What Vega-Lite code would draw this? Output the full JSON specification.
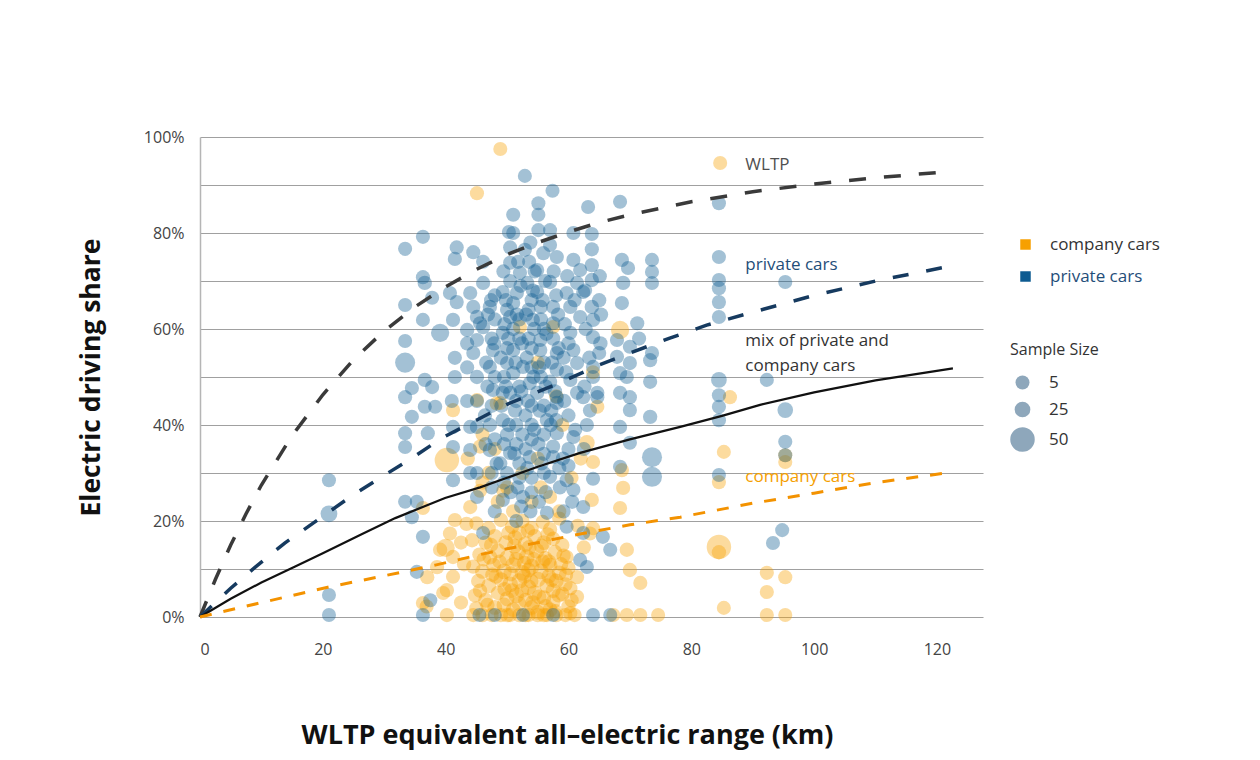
{
  "$schema": "https://vega.github.io/schema/vega-lite/v6.json",
  "width": 783,
  "height": 480,
  "autosize": {"type": "none"},
  "padding": {"left": 200, "top": 137, "right": 277, "bottom": 143},
  "background": "white",
  "config": {
    "font": "Open Sans",
    "view": {"stroke": null}
  },
  "encoding": {
    "x": {
      "field": "r",
      "type": "quantitative",
      "scale": {"domain": [0, 127.5], "nice": false},
      "axis": {
        "values": [0, 20, 40, 60, 80, 100, 120],
        "domain": false,
        "ticks": false,
        "grid": false,
        "labelFontSize": 16,
        "labelColor": "#444444",
        "labelPadding": 24,
        "title": "WLTP equivalent all–electric range (km)",
        "titleFontSize": 27,
        "titleFontWeight": "bold",
        "titleColor": "#111111",
        "titleX": 367,
        "titleY": 105,
        "titleAlign": "center",
        "titleBaseline": "top"
      }
    },
    "y": {
      "field": "s",
      "type": "quantitative",
      "scale": {"domain": [0, 100], "nice": false},
      "axis": {
        "values": [0, 10, 20, 30, 40, 50, 60, 70, 80, 90, 100],
        "labelExpr": "datum.value % 20 == 0 ? datum.value + '%' : ''",
        "ticks": false,
        "domain": true,
        "domainColor": "#b5b5b5",
        "domainWidth": 1.5,
        "grid": true,
        "gridColor": "#a0a0a0",
        "gridWidth": 1.2,
        "labelFontSize": 16,
        "labelColor": "#444444",
        "labelPadding": 16,
        "title": "Electric driving share",
        "titleFontSize": 26.5,
        "titleFontWeight": "bold",
        "titleColor": "#111111",
        "titlePadding": 38
      }
    }
  },
  "layer": [
    {
      "data": {
        "values": [
          {"g":"C","r":48.9,"s":97.5,"n":10},{"g":"C","r":45.1,"s":88.3,"n":12},{"g":"C","r":84.7,"s":94.6,"n":10},{"g":"C","r":68.4,"s":59.8,"n":35},
          {"g":"C","r":52.1,"s":60.4,"n":10},{"g":"C","r":57.5,"s":60.4,"n":10},{"g":"C","r":45.1,"s":45.2,"n":10},{"g":"C","r":48.9,"s":44.6,"n":10},
          {"g":"C","r":64.7,"s":43.8,"n":12},{"g":"C","r":86.3,"s":45.8,"n":10},{"g":"C","r":85.3,"s":34.4,"n":10},{"g":"C","r":84.5,"s":28.1,"n":12},
          {"g":"C","r":84.5,"s":14.6,"n":50},{"g":"C","r":84.5,"s":13.5,"n":15},{"g":"C","r":85.3,"s":1.9,"n":10},{"g":"C","r":92.3,"s":9.2,"n":12},
          {"g":"C","r":95.3,"s":8.3,"n":12},{"g":"C","r":92.3,"s":5.2,"n":12},{"g":"C","r":92.3,"s":0.4,"n":10},{"g":"C","r":95.3,"s":0.4,"n":10},
          {"g":"C","r":95.3,"s":33.7,"n":10},{"g":"C","r":95.3,"s":32.3,"n":10},
          {"g":"C","r":63,"s":36.3,"n":25},{"g":"C","r":64,"s":32.3,"n":12},{"g":"C","r":68.7,"s":30.6,"n":12},{"g":"C","r":68.9,"s":26.9,"n":12},
          {"g":"C","r":63.8,"s":24.4,"n":12},{"g":"C","r":68.4,"s":22.7,"n":12},{"g":"C","r":64,"s":18.5,"n":12},{"g":"C","r":63.5,"s":17.4,"n":10},
          {"g":"C","r":69.5,"s":14,"n":15},{"g":"C","r":70,"s":9.8,"n":15},{"g":"C","r":71.7,"s":7.1,"n":12},{"g":"C","r":69.5,"s":0.4,"n":10},
          {"g":"C","r":71.7,"s":0.4,"n":10},{"g":"C","r":74.6,"s":0.4,"n":10},{"g":"C","r":67.3,"s":0.4,"n":10},{"g":"C","r":59.7,"s":12.5,"n":12},
          {"g":"C","r":61.4,"s":8.3,"n":12},{"g":"C","r":61.4,"s":4.2,"n":12},{"g":"C","r":60.3,"s":0.8,"n":12},{"g":"C","r":62.5,"s":14.5,"n":12},
          {"g":"C","r":61.5,"s":19,"n":10},
          {"g":"C","r":40.2,"s":32.7,"n":50},{"g":"C","r":43.6,"s":33,"n":15},{"g":"C","r":45.6,"s":35.5,"n":12},{"g":"C","r":36.3,"s":22.7,"n":10},
          {"g":"C","r":40,"s":14.4,"n":35},{"g":"C","r":41.2,"s":12.5,"n":15},{"g":"C","r":38.6,"s":10.4,"n":15},{"g":"C","r":37,"s":8.3,"n":15},
          {"g":"C","r":40.2,"s":5.6,"n":15},{"g":"C","r":36.3,"s":2.9,"n":12},{"g":"C","r":40.2,"s":0.4,"n":12},{"g":"C","r":41.2,"s":43.1,"n":12},
          {"g":"C","r":41.5,"s":20.2,"n":12},{"g":"C","r":43.4,"s":19.4,"n":12},{"g":"C","r":44,"s":22.9,"n":12},{"g":"C","r":40.7,"s":17.4,"n":12},
          {"g":"C","r":39.1,"s":14,"n":15},{"g":"C","r":41.2,"s":8.4,"n":12},{"g":"C","r":39.6,"s":5,"n":12},{"g":"C","r":36.9,"s":2.2,"n":10},
          {"g":"C","r":42.5,"s":3,"n":12},{"g":"C","r":43,"s":11,"n":15},{"g":"C","r":42.5,"s":15.5,"n":12},{"g":"C","r":48.3,"s":44.5,"n":10},
          {"g":"C","r":45.6,"s":26.3,"n":12},{"g":"C","r":49.4,"s":26.3,"n":12},{"g":"C","r":46,"s":28,"n":12},{"g":"C","r":47,"s":30,"n":15},
          {"g":"C","r":48.5,"s":24,"n":15},{"g":"C","r":50,"s":27,"n":12},{"g":"C","r":51,"s":22,"n":15},{"g":"C","r":52.5,"s":30,"n":12},
          {"g":"C","r":54,"s":24,"n":12},{"g":"C","r":55.5,"s":27,"n":12},{"g":"C","r":57,"s":25,"n":12},{"g":"C","r":58.5,"s":22,"n":12},
          {"g":"C","r":46,"s":38,"n":10},{"g":"C","r":48,"s":35,"n":12},{"g":"C","r":55,"s":33,"n":10},{"g":"C","r":59,"s":40,"n":10},
          {"g":"C","r":58,"s":46,"n":10},{"g":"C","r":64,"s":51,"n":10},{"g":"C","r":55,"s":53,"n":10},{"g":"C","r":60.5,"s":29,"n":12},
          {"g":"C","r":62,"s":33,"n":10},
          {"g":"C","r":44.5,"s":0.4,"n":12},{"g":"C","r":46,"s":0.4,"n":15},{"g":"C","r":47.5,"s":0.4,"n":12},{"g":"C","r":49,"s":0.4,"n":15},
          {"g":"C","r":50.5,"s":0.4,"n":12},{"g":"C","r":52,"s":0.4,"n":15},{"g":"C","r":53.5,"s":0.4,"n":12},{"g":"C","r":55,"s":0.4,"n":15},
          {"g":"C","r":56.5,"s":0.4,"n":12},{"g":"C","r":58,"s":0.4,"n":15},{"g":"C","r":59.5,"s":0.4,"n":12},{"g":"C","r":61,"s":0.4,"n":12},
          {"g":"C","r":45,"s":1.8,"n":15},{"g":"C","r":48,"s":2,"n":20},{"g":"C","r":51,"s":1.5,"n":20},{"g":"C","r":54,"s":2,"n":20},
          {"g":"C","r":57,"s":1.5,"n":20},{"g":"C","r":60,"s":2.2,"n":15},
          {"g":"C","r":44.8,"s":4.5,"n":15},{"g":"C","r":46.5,"s":3.5,"n":20},{"g":"C","r":48.5,"s":5,"n":15},{"g":"C","r":50,"s":3.8,"n":20},
          {"g":"C","r":51.5,"s":4.5,"n":25},{"g":"C","r":53,"s":3.5,"n":20},{"g":"C","r":54.5,"s":5,"n":25},{"g":"C","r":56,"s":4,"n":20},
          {"g":"C","r":57.5,"s":3.2,"n":20},{"g":"C","r":59,"s":4.8,"n":15},{"g":"C","r":60.5,"s":3.5,"n":15},
          {"g":"C","r":45.3,"s":7.5,"n":15},{"g":"C","r":47,"s":6.5,"n":20},{"g":"C","r":49,"s":7.8,"n":20},{"g":"C","r":50.5,"s":6.8,"n":25},
          {"g":"C","r":52,"s":7.5,"n":25},{"g":"C","r":53.5,"s":6.2,"n":25},{"g":"C","r":55,"s":7.8,"n":25},{"g":"C","r":56.5,"s":6.5,"n":20},
          {"g":"C","r":58,"s":7.5,"n":20},{"g":"C","r":59.5,"s":6.8,"n":15},
          {"g":"C","r":44.5,"s":10.5,"n":15},{"g":"C","r":46,"s":9.5,"n":20},{"g":"C","r":47.8,"s":10.8,"n":20},{"g":"C","r":49.5,"s":9.5,"n":25},
          {"g":"C","r":51,"s":10.8,"n":25},{"g":"C","r":52.5,"s":9.2,"n":25},{"g":"C","r":54,"s":10.5,"n":25},{"g":"C","r":55.5,"s":9.5,"n":25},
          {"g":"C","r":57,"s":10.8,"n":20},{"g":"C","r":58.5,"s":9.2,"n":20},{"g":"C","r":60,"s":10.2,"n":15},
          {"g":"C","r":45.5,"s":13,"n":15},{"g":"C","r":47.2,"s":12.5,"n":20},{"g":"C","r":48.5,"s":13.8,"n":20},{"g":"C","r":50,"s":12.3,"n":25},
          {"g":"C","r":51.8,"s":13.5,"n":25},{"g":"C","r":53.2,"s":12.5,"n":25},{"g":"C","r":54.8,"s":13.8,"n":25},{"g":"C","r":56.2,"s":12.2,"n":20},
          {"g":"C","r":57.8,"s":13.5,"n":20},{"g":"C","r":59.2,"s":12.8,"n":15},
          {"g":"C","r":44.3,"s":16,"n":15},{"g":"C","r":46.5,"s":15.5,"n":15},{"g":"C","r":48,"s":16.8,"n":20},{"g":"C","r":49.8,"s":15.5,"n":20},
          {"g":"C","r":51.3,"s":16.5,"n":20},{"g":"C","r":53,"s":15.2,"n":25},{"g":"C","r":54.5,"s":16.8,"n":20},{"g":"C","r":56,"s":15.5,"n":20},
          {"g":"C","r":57.5,"s":16.3,"n":15},{"g":"C","r":59,"s":15,"n":15},
          {"g":"C","r":45,"s":19.5,"n":12},{"g":"C","r":47,"s":18.5,"n":15},{"g":"C","r":49,"s":20.2,"n":15},{"g":"C","r":50.8,"s":18.8,"n":15},
          {"g":"C","r":52.5,"s":20,"n":15},{"g":"C","r":54,"s":18.5,"n":15},{"g":"C","r":55.8,"s":19.8,"n":15},{"g":"C","r":57,"s":18.3,"n":15},
          {"g":"C","r":58.5,"s":20.5,"n":12},
          {"g":"C","r":50.8,"s":5.5,"n":20},{"g":"C","r":52.8,"s":8.5,"n":20},{"g":"C","r":54.2,"s":3,"n":20},{"g":"C","r":55.8,"s":11.5,"n":20},
          {"g":"C","r":53.6,"s":14.5,"n":20},{"g":"C","r":51.5,"s":12,"n":20},{"g":"C","r":56.8,"s":8.5,"n":20},{"g":"C","r":49.5,"s":2.5,"n":20},
          {"g":"C","r":52,"s":17.5,"n":20},{"g":"C","r":55,"s":1,"n":20},{"g":"C","r":57.5,"s":5.5,"n":20},{"g":"C","r":48.2,"s":8.5,"n":20},
          {"g":"C","r":53,"s":0.4,"n":15},{"g":"C","r":56,"s":0.4,"n":15},{"g":"C","r":50,"s":0.4,"n":15},
          {"g":"C","r":46.8,"s":2.5,"n":15},{"g":"C","r":47.6,"s":8.8,"n":15},{"g":"C","r":48.8,"s":11.5,"n":15},{"g":"C","r":49.6,"s":5.8,"n":15},
          {"g":"C","r":50.6,"s":9,"n":20},{"g":"C","r":51.2,"s":14.8,"n":20},{"g":"C","r":51.9,"s":2.8,"n":20},{"g":"C","r":52.4,"s":5.5,"n":20},
          {"g":"C","r":52.8,"s":11.2,"n":20},{"g":"C","r":53.5,"s":9.8,"n":20},{"g":"C","r":53.9,"s":7.5,"n":20},{"g":"C","r":54.4,"s":12,"n":20},
          {"g":"C","r":55.2,"s":4.2,"n":20},{"g":"C","r":55.6,"s":14.8,"n":20},{"g":"C","r":56.3,"s":2.2,"n":20},{"g":"C","r":56.8,"s":11.5,"n":20},
          {"g":"C","r":57.3,"s":7.8,"n":20},{"g":"C","r":57.9,"s":1.2,"n":15},{"g":"C","r":58.4,"s":4.5,"n":15},{"g":"C","r":58.8,"s":11,"n":15},
          {"g":"C","r":59.6,"s":8.8,"n":15},{"g":"C","r":60.3,"s":6,"n":15},{"g":"C","r":46.2,"s":12,"n":15},{"g":"C","r":45.6,"s":5.5,"n":15},
          {"g":"C","r":47.4,"s":15,"n":15},{"g":"C","r":50.2,"s":17.5,"n":15},{"g":"C","r":53.4,"s":18,"n":15},{"g":"C","r":56.6,"s":17.2,"n":15},

          {"g":"P","r":21,"s":28.5,"n":8},{"g":"P","r":21,"s":21.5,"n":30},{"g":"P","r":21,"s":4.6,"n":8},{"g":"P","r":21,"s":0.4,"n":8},
          {"g":"P","r":33.4,"s":76.7,"n":10},{"g":"P","r":33.4,"s":65,"n":12},{"g":"P","r":33.4,"s":57.5,"n":10},{"g":"P","r":33.4,"s":53,"n":40},
          {"g":"P","r":33.4,"s":45.8,"n":10},{"g":"P","r":33.4,"s":38.3,"n":10},{"g":"P","r":33.4,"s":35.4,"n":10},{"g":"P","r":33.4,"s":24,"n":10},
          {"g":"P","r":35.3,"s":24,"n":10},{"g":"P","r":35.3,"s":9.4,"n":10},{"g":"P","r":34.5,"s":41.7,"n":10},{"g":"P","r":34.5,"s":47.7,"n":12},
          {"g":"P","r":34.5,"s":20.8,"n":10},
          {"g":"P","r":36.3,"s":79.2,"n":10},{"g":"P","r":36.6,"s":69.6,"n":15},{"g":"P","r":36.3,"s":70.8,"n":10},{"g":"P","r":36.3,"s":61.9,"n":10},
          {"g":"P","r":36.6,"s":49.4,"n":12},{"g":"P","r":36.6,"s":43.8,"n":10},{"g":"P","r":37.1,"s":38.3,"n":10},{"g":"P","r":36.3,"s":16.7,"n":10},
          {"g":"P","r":36.3,"s":0.4,"n":10},
          {"g":"P","r":37.8,"s":66.5,"n":10},{"g":"P","r":37.8,"s":47.9,"n":12},{"g":"P","r":38.3,"s":43.8,"n":10},{"g":"P","r":37.5,"s":3.5,"n":8},
          {"g":"P","r":39.1,"s":59.2,"n":35},{"g":"P","r":40.7,"s":67.5,"n":12},
          {"g":"P","r":41.8,"s":77,"n":12},{"g":"P","r":41.5,"s":74.6,"n":12},{"g":"P","r":41.8,"s":65.6,"n":12},{"g":"P","r":41.2,"s":61.9,"n":12},
          {"g":"P","r":41.2,"s":39.6,"n":12},{"g":"P","r":41.2,"s":35.4,"n":10},{"g":"P","r":41.5,"s":50,"n":12},{"g":"P","r":41.5,"s":54,"n":12},
          {"g":"P","r":41,"s":45,"n":10},{"g":"P","r":41.2,"s":28.5,"n":10},
          {"g":"P","r":43.5,"s":59.8,"n":15},{"g":"P","r":44,"s":67.5,"n":12},{"g":"P","r":44.5,"s":76,"n":12},{"g":"P","r":44,"s":34.8,"n":12},
          {"g":"P","r":44,"s":39.6,"n":12},{"g":"P","r":43.5,"s":45,"n":12},{"g":"P","r":43.5,"s":52,"n":12},{"g":"P","r":43.5,"s":57,"n":12},
          {"g":"P","r":44.5,"s":64.6,"n":12},{"g":"P","r":44.5,"s":55,"n":10},{"g":"P","r":44,"s":30,"n":10},
          {"g":"P","r":45.1,"s":62.5,"n":15},{"g":"P","r":46.1,"s":69.6,"n":12},{"g":"P","r":45.6,"s":61.2,"n":12},{"g":"P","r":45.1,"s":57.7,"n":12},
          {"g":"P","r":45.1,"s":50,"n":15},{"g":"P","r":45.1,"s":39.6,"n":15},{"g":"P","r":45.1,"s":45,"n":10},{"g":"P","r":45.1,"s":30,"n":10},
          {"g":"P","r":45.1,"s":25,"n":10},{"g":"P","r":46.1,"s":60.4,"n":15},{"g":"P","r":46.1,"s":17.5,"n":10},{"g":"P","r":46.1,"s":74,"n":10},
          {"g":"P","r":45.5,"s":0.4,"n":10},
          {"g":"P","r":47.2,"s":64.6,"n":15},{"g":"P","r":47.7,"s":55.6,"n":12},{"g":"P","r":47.2,"s":52.1,"n":12},{"g":"P","r":47.7,"s":47.3,"n":12},
          {"g":"P","r":47.2,"s":34.8,"n":15},{"g":"P","r":47.2,"s":40,"n":15},{"g":"P","r":47.5,"s":58,"n":15},{"g":"P","r":47.5,"s":44,"n":12},
          {"g":"P","r":47.5,"s":30,"n":12},{"g":"P","r":47.5,"s":27,"n":10},{"g":"P","r":48,"s":67,"n":10},{"g":"P","r":48,"s":62,"n":12},
          {"g":"P","r":48,"s":37,"n":15},{"g":"P","r":48,"s":22,"n":10},{"g":"P","r":48,"s":50,"n":12},{"g":"P","r":48,"s":0.4,"n":10},
          {"g":"P","r":49.3,"s":67.7,"n":12},{"g":"P","r":49.3,"s":59.2,"n":12},{"g":"P","r":49.3,"s":46.7,"n":12},{"g":"P","r":49.3,"s":41,"n":15},
          {"g":"P","r":49.3,"s":24.4,"n":12},{"g":"P","r":50.3,"s":80.2,"n":10},{"g":"P","r":50.5,"s":77,"n":10},{"g":"P","r":50.5,"s":73.8,"n":12},
          {"g":"P","r":50.5,"s":62.5,"n":15},{"g":"P","r":50,"s":52.9,"n":12},{"g":"P","r":50.5,"s":46.7,"n":12},{"g":"P","r":50.5,"s":34.2,"n":15},
          {"g":"P","r":50,"s":56,"n":15},{"g":"P","r":50,"s":38,"n":15},{"g":"P","r":50,"s":30,"n":12},{"g":"P","r":50,"s":64,"n":12},
          {"g":"P","r":50.5,"s":70,"n":10},{"g":"P","r":49.5,"s":50,"n":15},{"g":"P","r":49.5,"s":36,"n":12},{"g":"P","r":49.5,"s":28,"n":12},
          {"g":"P","r":51,"s":83.8,"n":12},{"g":"P","r":51,"s":80,"n":10},{"g":"P","r":51.6,"s":67.5,"n":12},{"g":"P","r":51,"s":65.4,"n":12},
          {"g":"P","r":51,"s":55.6,"n":15},{"g":"P","r":51,"s":50.8,"n":15},{"g":"P","r":52.1,"s":71.7,"n":12},{"g":"P","r":52.6,"s":52.1,"n":12},
          {"g":"P","r":52.6,"s":25,"n":12},{"g":"P","r":51,"s":60,"n":15},{"g":"P","r":51.5,"s":45,"n":15},{"g":"P","r":51.5,"s":40,"n":15},
          {"g":"P","r":51.5,"s":36,"n":15},{"g":"P","r":52,"s":32,"n":12},{"g":"P","r":52,"s":29,"n":12},{"g":"P","r":52,"s":58,"n":15},
          {"g":"P","r":52,"s":62,"n":12},{"g":"P","r":52,"s":48,"n":15},{"g":"P","r":52.6,"s":0.4,"n":10},{"g":"P","r":51.5,"s":20,"n":10},
          {"g":"P","r":52.9,"s":91.9,"n":10},{"g":"P","r":52.9,"s":76.5,"n":12},{"g":"P","r":53.3,"s":69.6,"n":12},{"g":"P","r":53.7,"s":48.7,"n":12},
          {"g":"P","r":53.7,"s":33.3,"n":12},{"g":"P","r":54.2,"s":61.9,"n":12},{"g":"P","r":54,"s":66,"n":12},{"g":"P","r":54,"s":56,"n":15},
          {"g":"P","r":54,"s":52,"n":15},{"g":"P","r":54,"s":44,"n":15},{"g":"P","r":54,"s":40,"n":15},{"g":"P","r":54,"s":37,"n":15},
          {"g":"P","r":54,"s":29,"n":12},{"g":"P","r":53.5,"s":58,"n":15},{"g":"P","r":53.5,"s":64,"n":12},{"g":"P","r":54.5,"s":72,"n":12},
          {"g":"P","r":53,"s":42,"n":12},{"g":"P","r":53,"s":35,"n":12},{"g":"P","r":54,"s":26,"n":10},
          {"g":"P","r":55.1,"s":86.2,"n":10},{"g":"P","r":55.1,"s":83.8,"n":10},{"g":"P","r":55.1,"s":80.6,"n":10},{"g":"P","r":55.9,"s":75.8,"n":12},
          {"g":"P","r":54.9,"s":72.3,"n":12},{"g":"P","r":54.9,"s":67.7,"n":12},{"g":"P","r":55.4,"s":57.7,"n":12},{"g":"P","r":55.4,"s":55.6,"n":15},
          {"g":"P","r":54.9,"s":46.7,"n":15},{"g":"P","r":56.5,"s":41,"n":15},{"g":"P","r":56.5,"s":21.7,"n":12},{"g":"P","r":55.5,"s":62,"n":15},
          {"g":"P","r":55.5,"s":50,"n":15},{"g":"P","r":56,"s":44,"n":15},{"g":"P","r":56,"s":38,"n":15},{"g":"P","r":56,"s":34,"n":12},
          {"g":"P","r":56,"s":30,"n":12},{"g":"P","r":56,"s":53,"n":15},{"g":"P","r":56,"s":60,"n":15},{"g":"P","r":55.5,"s":64.6,"n":12},
          {"g":"P","r":57.4,"s":88.8,"n":10},{"g":"P","r":57,"s":80.6,"n":10},{"g":"P","r":57,"s":77.5,"n":10},{"g":"P","r":58.1,"s":75,"n":12},
          {"g":"P","r":57,"s":69.8,"n":15},{"g":"P","r":57.5,"s":64.6,"n":12},{"g":"P","r":57.5,"s":61.2,"n":12},{"g":"P","r":58.1,"s":55,"n":12},
          {"g":"P","r":58.1,"s":51.5,"n":15},{"g":"P","r":57,"s":49,"n":15},{"g":"P","r":58.1,"s":45.8,"n":12},{"g":"P","r":58.1,"s":44.6,"n":12},
          {"g":"P","r":58.1,"s":38.3,"n":15},{"g":"P","r":57.5,"s":33.3,"n":15},{"g":"P","r":57,"s":29.2,"n":12},{"g":"P","r":57.5,"s":0.4,"n":10},
          {"g":"P","r":57.5,"s":58,"n":15},{"g":"P","r":58,"s":41,"n":15},{"g":"P","r":58,"s":67,"n":12},{"g":"P","r":57.5,"s":35.5,"n":12},
          {"g":"P","r":59.7,"s":67.5,"n":12},{"g":"P","r":60.3,"s":64.6,"n":15},{"g":"P","r":60.3,"s":59.2,"n":12},{"g":"P","r":60.8,"s":55.6,"n":12},
          {"g":"P","r":60.3,"s":49.4,"n":12},{"g":"P","r":60.8,"s":37.5,"n":12},{"g":"P","r":59.7,"s":28.5,"n":12},{"g":"P","r":60.8,"s":26.5,"n":12},
          {"g":"P","r":59.7,"s":18.8,"n":10},{"g":"P","r":60.8,"s":80,"n":10},{"g":"P","r":60.8,"s":74.4,"n":12},{"g":"P","r":61.4,"s":69.6,"n":12},
          {"g":"P","r":61.9,"s":72.3,"n":12},{"g":"P","r":61.9,"s":62.5,"n":12},{"g":"P","r":61.4,"s":52.9,"n":12},{"g":"P","r":61.4,"s":46.7,"n":12},
          {"g":"P","r":60,"s":42,"n":12},{"g":"P","r":60,"s":35,"n":12},{"g":"P","r":60,"s":31.5,"n":12},{"g":"P","r":60,"s":57,"n":15},
          {"g":"P","r":62.4,"s":67.7,"n":12},{"g":"P","r":62.4,"s":45.8,"n":12},{"g":"P","r":62.4,"s":22.9,"n":10},{"g":"P","r":62.4,"s":17.5,"n":10},
          {"g":"P","r":61.9,"s":11.9,"n":10},{"g":"P","r":63.2,"s":85.4,"n":10},{"g":"P","r":63.8,"s":79.8,"n":10},{"g":"P","r":63.8,"s":76.6,"n":12},
          {"g":"P","r":63.8,"s":73.3,"n":15},{"g":"P","r":63.8,"s":70.2,"n":15},{"g":"P","r":63.8,"s":64.6,"n":15},{"g":"P","r":64,"s":61.9,"n":15},
          {"g":"P","r":64,"s":58.3,"n":15},{"g":"P","r":64,"s":52.1,"n":12},{"g":"P","r":64,"s":50,"n":12},{"g":"P","r":64.7,"s":46.7,"n":12},
          {"g":"P","r":64.7,"s":45.8,"n":12},{"g":"P","r":64,"s":28.8,"n":12},{"g":"P","r":63,"s":10.4,"n":10},{"g":"P","r":65,"s":66,"n":15},
          {"g":"P","r":65,"s":55,"n":12},{"g":"P","r":63,"s":40,"n":12},
          {"g":"P","r":65.6,"s":16.7,"n":10},{"g":"P","r":66.8,"s":14,"n":10},{"g":"P","r":66.8,"s":0.4,"n":10},{"g":"P","r":64,"s":0.4,"n":8},
          {"g":"P","r":68.4,"s":86.5,"n":10},{"g":"P","r":68.7,"s":74.4,"n":12},{"g":"P","r":69.7,"s":72.7,"n":12},{"g":"P","r":68.9,"s":69.6,"n":15},
          {"g":"P","r":68.7,"s":65.4,"n":12},{"g":"P","r":67.9,"s":57.7,"n":12},{"g":"P","r":67.9,"s":54.2,"n":12},{"g":"P","r":70,"s":56.3,"n":12},
          {"g":"P","r":70,"s":52.9,"n":12},{"g":"P","r":69.5,"s":50,"n":12},{"g":"P","r":70,"s":45.8,"n":12},{"g":"P","r":68.4,"s":46.7,"n":12},
          {"g":"P","r":70,"s":43.1,"n":12},{"g":"P","r":68.4,"s":39.6,"n":12},{"g":"P","r":70,"s":36.3,"n":12},{"g":"P","r":68.4,"s":31.3,"n":12},
          {"g":"P","r":68.4,"s":50.8,"n":12},
          {"g":"P","r":71.2,"s":61.2,"n":12},{"g":"P","r":73.6,"s":74.4,"n":10},{"g":"P","r":73.6,"s":71.9,"n":10},{"g":"P","r":73.6,"s":69.6,"n":10},
          {"g":"P","r":73.6,"s":55,"n":12},{"g":"P","r":73.3,"s":53.5,"n":12},{"g":"P","r":73.3,"s":49,"n":12},{"g":"P","r":73.3,"s":41.7,"n":15},
          {"g":"P","r":73.6,"s":33.3,"n":40},{"g":"P","r":73.6,"s":29.2,"n":40},{"g":"P","r":71.5,"s":58,"n":10},
          {"g":"P","r":84.5,"s":86.2,"n":10},{"g":"P","r":84.5,"s":75,"n":10},{"g":"P","r":84.5,"s":70.2,"n":12},{"g":"P","r":84.5,"s":68.5,"n":12},
          {"g":"P","r":84.5,"s":65.6,"n":12},{"g":"P","r":84.5,"s":62.5,"n":12},{"g":"P","r":84.5,"s":49.4,"n":25},{"g":"P","r":84.5,"s":46.2,"n":12},
          {"g":"P","r":84.5,"s":43.8,"n":12},{"g":"P","r":84.5,"s":41,"n":12},{"g":"P","r":84.5,"s":29.6,"n":10},
          {"g":"P","r":95.3,"s":69.8,"n":10},{"g":"P","r":92.3,"s":49.4,"n":10},{"g":"P","r":95.3,"s":43.1,"n":25},{"g":"P","r":95.3,"s":36.5,"n":12},
          {"g":"P","r":95.3,"s":33.7,"n":10},{"g":"P","r":94.8,"s":18.1,"n":10},{"g":"P","r":93.3,"s":15.4,"n":10},
          {"g":"P","r":46.4,"s":42,"n":12},{"g":"P","r":46.8,"s":48,"n":12},{"g":"P","r":46.6,"s":53,"n":12},{"g":"P","r":47.9,"s":57,"n":12},
          {"g":"P","r":46.9,"s":63,"n":12},{"g":"P","r":47.4,"s":66,"n":12},{"g":"P","r":46.5,"s":36,"n":12},{"g":"P","r":48.3,"s":32,"n":12},
          {"g":"P","r":49.1,"s":44,"n":15},{"g":"P","r":49.8,"s":48,"n":15},{"g":"P","r":49,"s":54,"n":15},{"g":"P","r":50.2,"s":58,"n":15},
          {"g":"P","r":49.6,"s":61,"n":15},{"g":"P","r":49.8,"s":66,"n":12},{"g":"P","r":49.4,"s":72,"n":10},{"g":"P","r":50.3,"s":40,"n":15},
          {"g":"P","r":48.9,"s":32,"n":12},{"g":"P","r":50.6,"s":26,"n":12},
          {"g":"P","r":51.3,"s":43,"n":15},{"g":"P","r":52.3,"s":47,"n":15},{"g":"P","r":51.4,"s":53,"n":15},{"g":"P","r":52.4,"s":57,"n":15},
          {"g":"P","r":51.6,"s":63,"n":15},{"g":"P","r":52.2,"s":69,"n":12},{"g":"P","r":51.8,"s":74,"n":12},{"g":"P","r":52.5,"s":38,"n":15},
          {"g":"P","r":51.2,"s":34,"n":15},{"g":"P","r":51.7,"s":27,"n":12},{"g":"P","r":52.3,"s":23,"n":12},
          {"g":"P","r":53.4,"s":45,"n":15},{"g":"P","r":54.3,"s":50,"n":15},{"g":"P","r":53.2,"s":54,"n":15},{"g":"P","r":54.4,"s":60,"n":15},
          {"g":"P","r":53.1,"s":63,"n":15},{"g":"P","r":54.2,"s":68,"n":12},{"g":"P","r":53.6,"s":74,"n":12},{"g":"P","r":53.8,"s":78,"n":10},
          {"g":"P","r":54.4,"s":39,"n":15},{"g":"P","r":53.3,"s":31,"n":12},{"g":"P","r":53.8,"s":22,"n":12},
          {"g":"P","r":55.3,"s":43,"n":15},{"g":"P","r":56.3,"s":48,"n":15},{"g":"P","r":55.2,"s":52,"n":15},{"g":"P","r":56.4,"s":59,"n":15},
          {"g":"P","r":55.8,"s":66,"n":12},{"g":"P","r":56.2,"s":70,"n":12},{"g":"P","r":55.1,"s":36,"n":15},{"g":"P","r":55.6,"s":32,"n":12},
          {"g":"P","r":56.3,"s":26,"n":12},{"g":"P","r":55.2,"s":24,"n":12},
          {"g":"P","r":57.2,"s":43,"n":15},{"g":"P","r":57.8,"s":47,"n":15},{"g":"P","r":57.3,"s":53,"n":15},{"g":"P","r":58.4,"s":56,"n":15},
          {"g":"P","r":58.3,"s":63,"n":15},{"g":"P","r":57.6,"s":72,"n":12},{"g":"P","r":57.1,"s":40,"n":15},{"g":"P","r":58.5,"s":31,"n":12},
          {"g":"P","r":58.6,"s":27,"n":12},
          {"g":"P","r":59.3,"s":45,"n":15},{"g":"P","r":59.6,"s":51,"n":15},{"g":"P","r":59.2,"s":54,"n":15},{"g":"P","r":59.4,"s":61,"n":15},
          {"g":"P","r":61,"s":66,"n":12},{"g":"P","r":59.8,"s":71,"n":12},{"g":"P","r":61.1,"s":39,"n":12},{"g":"P","r":59.1,"s":33,"n":12},
          {"g":"P","r":60.6,"s":24,"n":12},{"g":"P","r":59.2,"s":22,"n":10},
          {"g":"P","r":62.6,"s":48,"n":15},{"g":"P","r":63.4,"s":54,"n":15},{"g":"P","r":65.2,"s":57,"n":15},{"g":"P","r":62.8,"s":60,"n":15},
          {"g":"P","r":65.3,"s":63,"n":15},{"g":"P","r":62.7,"s":68,"n":12},{"g":"P","r":65.1,"s":71,"n":12},{"g":"P","r":63.5,"s":43,"n":12},
          {"g":"P","r":62.5,"s":35,"n":12}
        ]
      },
      "mark": {"type": "circle", "opacity": 0.38, "strokeWidth": 0},
      "encoding": {
        "color": {
          "field": "g",
          "type": "nominal",
          "scale": {"domain": ["C", "P"], "range": ["#f7a000", "#0d5b91"]},
          "legend": {
            "title": null,
            "orient": "none",
            "legendX": 817,
            "legendY": 99,
            "symbolType": "square",
            "symbolSize": 110,
            "symbolOpacity": 1,
            "labelFontSize": 17,
            "labelOffset": 16,
            "rowPadding": 14,
            "labelExpr": "datum.value == 'C' ? 'company cars' : 'private cars'",
            "encode": {
              "labels": {"update": {"fill": {"signal": "datum.value == 'P' ? '#1f4e79' : '#333333'"}}},
              "symbols": {
                "enter": {"fill": {"signal": "datum.value == 'P' ? '#0a2b4c' : '#f8a11a'"}},
                "update": {"fill": {"signal": "datum.value == 'P' ? '#0a2b4c' : '#f8a11a'"}, "opacity": {"value": 1}, "fillOpacity": {"value": 1}, "strokeWidth": {"value": 0}}
              }
            }
          }
        },
        "size": {
          "field": "n",
          "type": "quantitative",
          "scale": {"type": "pow", "exponent": 3, "domain": [0, 50], "range": [195, 600]},
          "legend": {
            "title": "Sample Size",
            "orient": "none",
            "legendX": 810,
            "legendY": 205,
            "values": [5, 25, 50],
            "symbolOpacity": 1,
            "symbolFillColor": "#8ea7bb",
            "symbolStrokeWidth": 0,
            "titleFontSize": 16,
            "titleFontWeight": "normal",
            "titleColor": "#333333",
            "titlePadding": 16,
            "labelFontSize": 17,
            "labelColor": "#333333",
            "labelOffset": 14,
            "rowPadding": 9
          }
        }
      }
    },
    {
      "data": {
        "values": [
          {"r":0,"s":0},{"r":2.5,"s":7.8},{"r":5,"s":15},{"r":7.5,"s":21.5},{"r":10,"s":27.5},{"r":15,"s":37.8},
          {"r":20,"s":46.3},{"r":25,"s":53.6},{"r":30,"s":59.6},{"r":35,"s":64.6},{"r":40,"s":68.8},{"r":45,"s":72.4},
          {"r":50,"s":75.5},{"r":55,"s":78},{"r":60,"s":80.2},{"r":65,"s":82.2},{"r":70,"s":83.8},{"r":80,"s":86.5},
          {"r":90,"s":88.6},{"r":100,"s":90.2},{"r":110,"s":91.5},{"r":121,"s":92.7}
        ]
      },
      "mark": {"type": "line", "color": "#3a3a3a", "strokeWidth": 3.5, "strokeDash": [17, 18]},
      "encoding": {}
    },
    {
      "data": {
        "values": [
          {"r":0,"s":0},{"r":5,"s":6},{"r":9,"s":10.4},{"r":13.8,"s":15.4},{"r":20.8,"s":21.7},{"r":25,"s":25.5},
          {"r":29.6,"s":29.2},{"r":35,"s":33.5},{"r":39.4,"s":37.3},{"r":45,"s":41},{"r":50,"s":44.3},{"r":58.6,"s":48.8},
          {"r":65,"s":52.5},{"r":70,"s":55},{"r":76.5,"s":58.1},{"r":82.5,"s":60.8},{"r":90,"s":63.5},{"r":100,"s":67},
          {"r":110,"s":70},{"r":121,"s":72.8}
        ]
      },
      "mark": {"type": "line", "color": "#163a5f", "strokeWidth": 3.5, "strokeDash": [16, 18]},
      "encoding": {}
    },
    {
      "data": {
        "values": [
          {"r":0,"s":0},{"r":5,"s":3.8},{"r":10,"s":7.2},{"r":15.5,"s":10.5},{"r":20,"s":13.3},{"r":26.4,"s":17.3},
          {"r":31.8,"s":20.6},{"r":39.9,"s":24.8},{"r":45.6,"s":27},{"r":50,"s":29},{"r":55,"s":31.3},{"r":61.9,"s":34.2},
          {"r":70,"s":37},{"r":78.2,"s":39.6},{"r":85,"s":41.9},{"r":91.2,"s":44.2},{"r":100,"s":46.8},{"r":110,"s":49.3},
          {"r":122.6,"s":51.8}
        ]
      },
      "mark": {"type": "line", "color": "#111111", "strokeWidth": 2.2},
      "encoding": {}
    },
    {
      "data": {
        "values": [
          {"r":0,"s":0},{"r":5,"s":1.5},{"r":10,"s":3},{"r":20.8,"s":6.2},{"r":29.3,"s":8.4},{"r":38.3,"s":10.8},
          {"r":45.6,"s":13},{"r":50,"s":14.2},{"r":61.9,"s":17.3},{"r":70,"s":19.2},{"r":78.2,"s":20.8},{"r":90,"s":23.7},
          {"r":100,"s":25.8},{"r":110,"s":28},{"r":122.6,"s":30.2}
        ]
      },
      "mark": {"type": "line", "color": "#f39200", "strokeWidth": 3, "strokeDash": [12, 12]},
      "encoding": {}
    },
    {
      "data": {"values": [{"r": 88.8, "s": 94.2, "t": "WLTP"}]},
      "mark": {"type": "text", "align": "left", "baseline": "middle", "fontSize": 17, "color": "#505050"},
      "encoding": {"text": {"field": "t"}}
    },
    {
      "data": {"values": [{"r": 88.8, "s": 73.3, "t": "private cars"}]},
      "mark": {"type": "text", "align": "left", "baseline": "middle", "fontSize": 17, "color": "#1f4e79"},
      "encoding": {"text": {"field": "t"}}
    },
    {
      "data": {"values": [{"r": 88.8, "s": 57.6, "t": "mix of private and"}, {"r": 88.8, "s": 52.3, "t": "company cars"}]},
      "mark": {"type": "text", "align": "left", "baseline": "middle", "fontSize": 17, "color": "#333333"},
      "encoding": {"text": {"field": "t"}}
    },
    {
      "data": {"values": [{"r": 88.8, "s": 29.2, "t": "company cars"}]},
      "mark": {"type": "text", "align": "left", "baseline": "middle", "fontSize": 17, "color": "#f5a000"},
      "encoding": {"text": {"field": "t"}}
    }
  ]
}
